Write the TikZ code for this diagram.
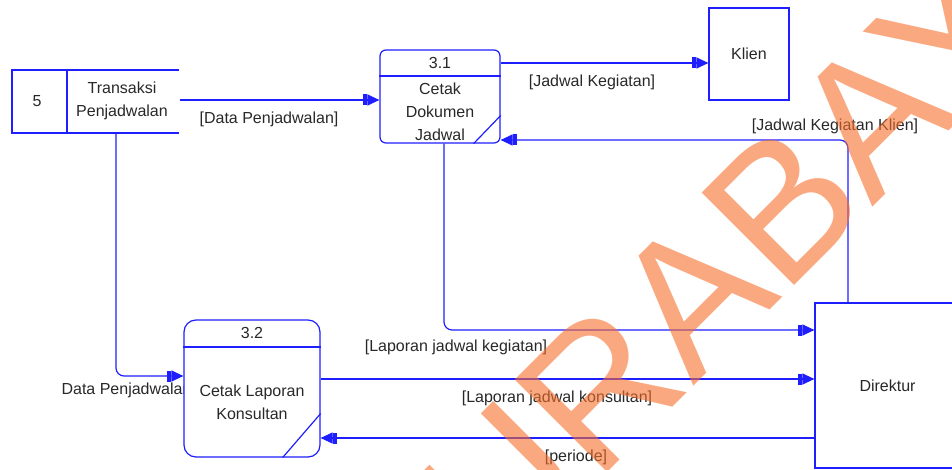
\documentclass[tikz,border=0pt]{standalone}
\usepackage{fontspec}
\setmainfont{Liberation Sans}
\usetikzlibrary{arrows.meta,calc}
\definecolor{dfd}{RGB}{30,30,255}
\definecolor{wmc}{RGB}{247,110,43}
\definecolor{txt}{RGB}{40,40,40}
\begin{document}
\begin{tikzpicture}[x=1pt,y=-1pt,
  line width=1.2pt,
  every node/.style={text=txt, font=\fontsize{16}{23}\selectfont, inner sep=0pt, align=center},
  flow/.style={draw=dfd, -{Rectangle[length=4pt,width=11pt] Triangle[length=12pt,width=11pt]}},
  procbox/.style={draw=dfd, fill=white},
  extbox/.style={draw=dfd, fill=white},
  storeline/.style={draw=dfd, color=dfd},
  wmark/.style={text=wmc, opacity=0.6, font=\fontsize{190}{190}\selectfont, rotate=45, anchor=base}
]
\useasboundingbox (0,0) rectangle (952,470);

% data store outline
\draw[storeline] (179,70) -- (12,70) -- (12,133) -- (179,133);
\draw[storeline] (67,70) -- (67,133);
\node (ds) at (95.5,101.5) [minimum width=167pt, minimum height=63pt] {};
\node (dsid) at (37,101) {5};
\node (dsname) at (122,101) {Transaksi\\Penjadwalan};

% label hidden partly behind process 3.2
\node (l5) at (61,390) [anchor=west] {Data Penjadwalan};

% process 3.1
\node (p1) at (440,96.5) [procbox, rounded corners=6pt, minimum width=120pt, minimum height=93pt] {};
\draw[storeline] (p1.west |- 0,76) -- (p1.east |- 0,76);
\draw[storeline] ($(p1.south east)+(-27,0)$) -- ($(p1.south east)+(0,-28)$);
\node (p1id) at (440,63) {3.1};
\node (p1txt) at (440,112) {Cetak\\Dokumen\\Jadwal};

% process 3.2
\node (p2) at (252,388.5) [procbox, rounded corners=12pt, minimum width=136pt, minimum height=137pt] {};
\draw[storeline] (p2.west |- 0,347) -- (p2.east |- 0,347);
\draw[storeline] ($(p2.south east)+(-38,0)$) -- ($(p2.south east)+(0,-44)$);
\node (p2id) at (252,333) {3.2};
\node (p2txt) at (252,402) {Cetak Laporan\\Konsultan};

% externals
\node (klien) at (749,54) [extbox, minimum width=80pt, minimum height=92pt] {Klien};
\node (dir) at (887.5,385.5) [extbox, minimum width=145pt, minimum height=165pt] {Direktur};

% flows
\draw[flow] (ds.east |- 0,100) -- (p1.west |- 0,100);
\draw[flow] (p1.east |- 0,63) -- (klien.west |- 0,63);
\draw[flow, rounded corners=8pt] (dir.north -| 848,0) |- (p1.east |- 0,140);
\draw[flow, rounded corners=8pt] (p1.south -| 444,0) |- (dir.west |- 0,330);
\draw[flow, rounded corners=8pt] (ds.south -| 116,0) |- (p2.west |- 0,376);
\draw[flow] (p2.east |- 0,379) -- (dir.west |- 0,379);
\draw[flow] (dir.west |- 0,438) -- (p2.east |- 0,438);

% flow labels
\node (l1) at (269,119) {[Data Penjadwalan]};
\node (l2) at (592,82) {[Jadwal Kegiatan]};
\node (l3) at (835,126) {[Jadwal Kegiatan Klien]};
\node (l4) at (456,347) {[Laporan jadwal kegiatan]};
\node (l6) at (557,398) {[Laporan jadwal konsultan]};
\node (l7) at (576,457) {[periode]};

% watermark
\node (wm) at (765.8,314.2) [wmark] {SURABAYA};
\end{tikzpicture}
\end{document}
